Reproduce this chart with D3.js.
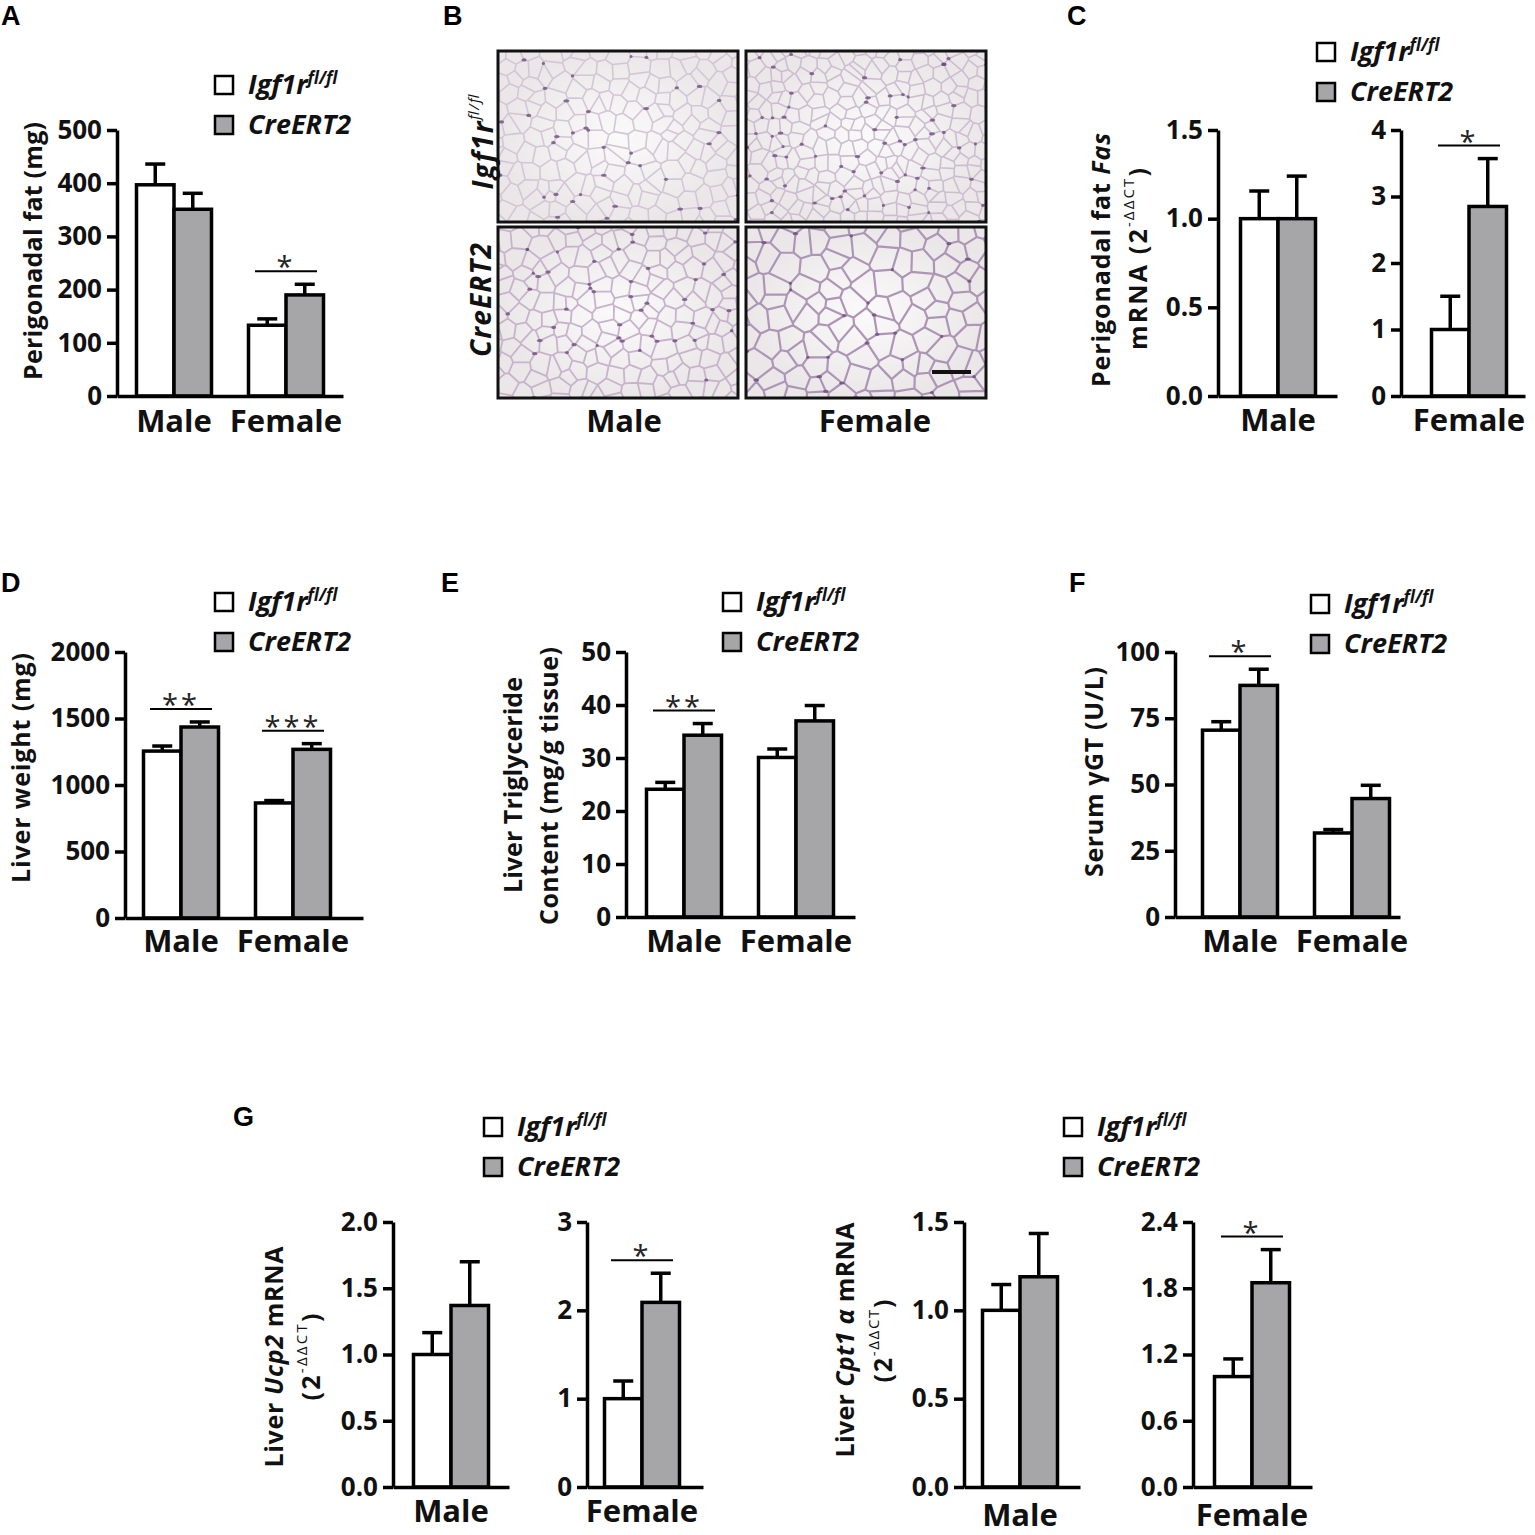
<!DOCTYPE html>
<html>
<head>
<meta charset="utf-8">
<script src="https://cdn.jsdelivr.net/npm/d3@7"></script>
<style>
  body { margin: 0; background: #fff; }
  svg { display: block; font-family: "Open Sans", sans-serif; font-weight: 700; }
</style>
</head>
<body>
<svg id="fig" width="1535" height="1535"></svg>
<script>
// ---- data ----
const groups = ["Male", "Female"];
const genotypes = ["Igf1r", "CreERT2"];

// A: perigonadal fat (mg), [group][genotype]
const fatMean = [[397, 351], [133, 190]];
const fatSem = [[39, 30], [12, 20]];
const fatTicks = [0, 100, 200, 300, 400, 500];

// C: perigonadal fat Fas mRNA
const fasMaleMean = [[1.0, 1.0]];
const fasMaleSem = [[0.156, 0.24]];
const fasMaleTicks = [0, 0.5, 1.0, 1.5];
const fasFemaleMean = [[1.0, 2.85]];
const fasFemaleSem = [[0.5, 0.72]];
const fasFemaleTicks = [0, 1, 2, 3, 4];

// D: liver weight (mg)
const liverMean = [[1255, 1436], [865, 1268]];
const liverSem = [[38, 38], [18, 43]];
const liverTicks = [0, 500, 1000, 1500, 2000];

// E: liver triglyceride (mg/g tissue)
const tgMean = [[24.1, 34.3], [30.1, 37.0]];
const tgSem = [[1.3, 2.2], [1.6, 2.9]];
const tgTicks = [0, 10, 20, 30, 40, 50];

// F: serum gGT (U/L)
const ggtMean = [[70.5, 87.4], [31.7, 44.7]];
const ggtSem = [[3.2, 6.1], [1.3, 5.0]];
const ggtTicks = [0, 25, 50, 75, 100];

// G: liver Ucp2 and Cpt1a mRNA
const ucpMaleMean = [[1.0, 1.37]];
const ucpMaleSem = [[0.165, 0.33]];
const ucpMaleTicks = [0, 0.5, 1.0, 1.5, 2.0];
const ucpFemaleMean = [[1.0, 2.09]];
const ucpFemaleSem = [[0.2, 0.33]];
const ucpFemaleTicks = [0, 1, 2, 3];
const cptMaleMean = [[1.0, 1.19]];
const cptMaleSem = [[0.146, 0.245]];
const cptMaleTicks = [0, 0.5, 1.0, 1.5];
const cptFemaleMean = [[1.0, 1.85]];
const cptFemaleSem = [[0.16, 0.30]];
const cptFemaleTicks = [0, 0.6, 1.2, 1.8, 2.4];

const svg = d3.select("#fig");
const GREY = "#a6a6a9";
const LW = 3.5;

// one bar chart (white = Igf1r fl/fl, grey = CreERT2)
function barPanel(p) {
  const y = d3.scaleLinear().domain([0, d3.max(p.ticks)]).range([p.yBot, p.yTop]);
  const x = d3.scalePoint().domain(p.groups).range(p.centers);
  const bw = 37.5;
  const g = svg.append("g");

  const bars = [];
  p.groups.forEach((grp, i) => p.mean[i].forEach((m, s) => bars.push({grp, s, m, e: p.sem[i][s]})));

  // error bars (upper only)
  const eb = g.selectAll("g.err").data(bars).join("g").attr("class", "err");
  eb.append("line")
    .attr("x1", d => x(d.grp) + (d.s ? bw / 2 : -bw / 2))
    .attr("x2", d => x(d.grp) + (d.s ? bw / 2 : -bw / 2))
    .attr("y1", d => y(d.m)).attr("y2", d => y(d.m + d.e))
    .attr("stroke", "#000").attr("stroke-width", LW);
  eb.append("line")
    .attr("x1", d => x(d.grp) + (d.s ? bw / 2 : -bw / 2) - 10)
    .attr("x2", d => x(d.grp) + (d.s ? bw / 2 : -bw / 2) + 10)
    .attr("y1", d => y(d.m + d.e)).attr("y2", d => y(d.m + d.e))
    .attr("stroke", "#000").attr("stroke-width", LW);

  g.selectAll("rect.bar").data(bars).join("rect").attr("class", "bar")
    .attr("x", d => x(d.grp) + (d.s ? 0 : -bw))
    .attr("y", d => y(d.m))
    .attr("width", bw)
    .attr("height", d => y(0) - y(d.m))
    .attr("fill", d => d.s ? GREY : "#fff")
    .attr("stroke", "#000").attr("stroke-width", LW);

  // axes
  const ay = g.append("g").attr("transform", `translate(${p.x0},0)`)
    .call(d3.axisLeft(y).tickValues(p.ticks).tickFormat(d3.format(p.fmt)).tickSize(10).tickSizeOuter(0).tickPadding(5));
  ay.select(".domain").attr("stroke-width", LW);
  ay.selectAll(".tick line").attr("stroke-width", LW);
  ay.selectAll(".tick text").attr("font-size", 26).attr("font-family", "Open Sans").attr("font-weight", 700).attr("fill", "#111");

  const xs = d3.scaleLinear().range([p.x0, p.x1]);
  const ax = g.append("g").attr("transform", `translate(0,${y(0)})`)
    .call(d3.axisBottom(xs).tickValues([]).tickSizeOuter(0));
  ax.select(".domain").attr("stroke-width", LW);

  // category labels
  g.selectAll("text.cat").data(p.groups).join("text").attr("class", "cat")
    .attr("x", d => x(d)).attr("y", y(0) + (p.catDy || 36))
    .attr("text-anchor", "middle").attr("font-size", 31).attr("fill", "#111")
    .text(d => d);

  // significance
  (p.sig || []).forEach(sg => {
    const i = p.groups.indexOf(sg.grp);
    const top = d3.max(p.mean[i].map((m, s) => m + p.sem[i][s]));
    const ly = y(top) - 13;
    const c = x(sg.grp);
    g.append("line").attr("x1", c - 31).attr("x2", c + 31).attr("y1", ly).attr("y2", ly)
      .attr("stroke", "#000").attr("stroke-width", 2);
    g.append("text").attr("x", c).attr("y", ly + 6).attr("text-anchor", "middle")
      .attr("font-size", 29).attr("font-weight", 400).attr("letter-spacing", 3).attr("fill", "#222")
      .text(sg.label);
  });
}

function legend(lx, ly) {
  const g = svg.append("g").attr("transform", `translate(${lx},${ly})`);
  const rows = g.selectAll("g").data(genotypes).join("g")
    .attr("transform", (d, i) => `translate(0,${i * 40})`);
  rows.append("rect").attr("width", 18).attr("height", 18)
    .attr("fill", (d, i) => i ? GREY : "#fff").attr("stroke", "#000").attr("stroke-width", 2.5);
  const t = rows.append("text").attr("x", 33).attr("y", 18)
    .attr("font-size", 27).attr("font-style", "italic").attr("fill", "#111");
  t.append("tspan").text(d => d);
  t.filter((d, i) => i === 0).append("tspan").attr("dy", -10).attr("font-size", 17).text("fl/fl");
}

function ytitle(cx, cy, parts, len, size) {
  const t = svg.append("text").attr("transform", `translate(${cx},${cy}) rotate(-90)`)
    .attr("text-anchor", "middle").attr("dominant-baseline", "central")
    .attr("font-size", size || 25).attr("fill", "#111");
  if (len) t.attr("textLength", len);
  parts.forEach(pt => {
    const s = t.append("tspan").text(pt.t);
    if (pt.i) s.attr("font-style", "italic");
    if (pt.sup) s.attr("font-size", 15).attr("font-weight", 400).attr("dy", -9);
    if (pt.down) s.attr("dy", 9);
  });
}

function panelLetter(x, y, s) {
  svg.append("text").attr("x", x).attr("y", y).attr("font-family", "Liberation Sans, Arial")
    .attr("font-size", 27).attr("font-weight", 700).text(s);
}

// ---- A ----
panelLetter(1, 25, "A");
legend(215, 76);
ytitle(32, 251, [{t: "Perigonadal fat (mg)"}], 258);
barPanel({groups, mean: fatMean, sem: fatSem, ticks: fatTicks, fmt: "d",
  x0: 117, x1: 343, yTop: 130, yBot: 396, centers: [174, 286],
  sig: [{grp: "Female", label: "*"}]});

// ---- B (H&E sections) ----
panelLetter(443, 25, "B");
function hash(a, b, s) {
  const v = Math.sin(a * 127.1 + b * 311.7 + s * 74.7) * 43758.5453;
  return v - Math.floor(v);
}
const frames = [
  {x: 498, y: 51, step: 17, col: "#d3c6d6", w: 1.6, seed: 1},
  {x: 746, y: 51, step: 14, col: "#cdbdd1", w: 1.6, seed: 2},
  {x: 498, y: 227, step: 17, col: "#c7b3cc", w: 1.8, seed: 3},
  {x: 746, y: 227, step: 22, col: "#ad95b6", w: 2.2, seed: 4}
];
const FW = 240, FH = 171;
const defs = svg.append("defs");
const grad = defs.append("radialGradient").attr("id", "photo");
grad.append("stop").attr("offset", "0%").attr("stop-color", "#fbfafa");
grad.append("stop").attr("offset", "100%").attr("stop-color", "#ebe7e8");
frames.forEach((f, k) => {
  defs.append("clipPath").attr("id", "clip" + k)
    .append("rect").attr("x", f.x).attr("y", f.y).attr("width", FW).attr("height", FH);
  const g = svg.append("g").attr("clip-path", `url(#clip${k})`);
  g.append("rect").attr("x", f.x).attr("y", f.y).attr("width", FW).attr("height", FH).attr("fill", "url(#photo)");
  const pts = [];
  const st = f.step;
  for (let i = -1; i * st < FW + st; i++) {
    for (let j = -1; j * st * 0.87 < FH + st; j++) {
      const ox = (j % 2 ? st / 2 : 0);
      pts.push([f.x + i * st + ox + (hash(i, j, f.seed) - 0.5) * st * 0.8,
                f.y + j * st * 0.87 + (hash(j, i, f.seed + 9) - 0.5) * st * 0.8]);
    }
  }
  const del = d3.Delaunay.from(pts);
  const vor = del.voronoi([f.x - st, f.y - st, f.x + FW + st, f.y + FH + st]);
  g.append("path").attr("d", vor.render()).attr("fill", "none")
    .attr("stroke", f.col).attr("stroke-width", f.w).attr("stroke-linejoin", "round");
  const cc = vor.circumcenters;
  const nuclei = [];
  for (let n = 0; n < cc.length / 2; n++) if (hash(n, k, 5) < 0.14) nuclei.push([cc[2 * n], cc[2 * n + 1], hash(k, n, 7)]);
  g.selectAll("ellipse").data(nuclei).join("ellipse")
    .attr("cx", d => d[0]).attr("cy", d => d[1])
    .attr("rx", d => 1.5 + d[2] * 1.5).attr("ry", 1.6)
    .attr("fill", "#6a4578").attr("opacity", 0.75);
  svg.append("rect").attr("x", f.x).attr("y", f.y).attr("width", FW).attr("height", FH)
    .attr("fill", "none").attr("stroke", "#111").attr("stroke-width", 3);
});
svg.append("line").attr("x1", 932).attr("x2", 971).attr("y1", 372).attr("y2", 372)
  .attr("stroke", "#111").attr("stroke-width", 4);
ytitle(482, 142, [{t: "Igf1r", i: 1}, {t: "fl/fl", i: 1, sup: 1}], 95, 28);
ytitle(480, 300, [{t: "CreERT2", i: 1}], 114, 28);
svg.selectAll("text.bcat").data(groups).join("text").attr("class", "bcat")
  .attr("x", (d, i) => [624, 875][i]).attr("y", 432).attr("text-anchor", "middle")
  .attr("font-size", 31).attr("fill", "#111").text(d => d);

// ---- C ----
panelLetter(1067, 25, "C");
legend(1317, 43);
ytitle(1100, 260, [{t: "Perigonadal fat  "}, {t: "Fas", i: 1}], 254);
ytitle(1137, 259, [{t: "mRNA  (2"}, {t: "-ΔΔCT", sup: 1}, {t: ")", down: 1}], 182);
barPanel({groups: ["Male"], mean: fasMaleMean, sem: fasMaleSem, ticks: fasMaleTicks, fmt: ".1f",
  x0: 1218, x1: 1337, yTop: 130, yBot: 396, centers: [1278, 1278], catDy: 35});
barPanel({groups: ["Female"], mean: fasFemaleMean, sem: fasFemaleSem, ticks: fasFemaleTicks, fmt: "d",
  x0: 1401, x1: 1525, yTop: 130, yBot: 396, centers: [1469, 1469], catDy: 35,
  sig: [{grp: "Female", label: "*"}]});

// ---- D ----
panelLetter(1, 592, "D");
legend(215, 593);
ytitle(20, 768, [{t: "Liver weight (mg)"}], 230);
barPanel({groups, mean: liverMean, sem: liverSem, ticks: liverTicks, fmt: "d",
  x0: 125, x1: 363, yTop: 652, yBot: 918, centers: [181, 293], catDy: 34,
  sig: [{grp: "Male", label: "**"}, {grp: "Female", label: "***"}]});

// ---- E ----
panelLetter(441, 592, "E");
legend(723, 593);
ytitle(512, 785, [{t: "Liver Triglyceride"}], 216);
ytitle(548, 786, [{t: "Content (mg/g tissue)"}], 278);
barPanel({groups, mean: tgMean, sem: tgSem, ticks: tgTicks, fmt: "d",
  x0: 626, x1: 855, yTop: 652, yBot: 917, centers: [684, 796], catDy: 35,
  sig: [{grp: "Male", label: "**"}]});

// ---- F ----
panelLetter(1069, 592, "F");
legend(1311, 595);
ytitle(1093, 772, [{t: "Serum γGT (U/L)"}], 210);
barPanel({groups, mean: ggtMean, sem: ggtSem, ticks: ggtTicks, fmt: "d",
  x0: 1175, x1: 1400, yTop: 652, yBot: 917, centers: [1240, 1352], catDy: 35,
  sig: [{grp: "Male", label: "*"}]});

// ---- G ----
panelLetter(233, 1126, "G");
legend(484, 1118);
ytitle(273, 1357, [{t: "Liver "}, {t: "Ucp2", i: 1}, {t: " mRNA"}], 221);
ytitle(310, 1357, [{t: "(2"}, {t: "-ΔΔCT", sup: 1}, {t: ")", down: 1}], 87);
barPanel({groups: ["Male"], mean: ucpMaleMean, sem: ucpMaleSem, ticks: ucpMaleTicks, fmt: ".1f",
  x0: 393, x1: 509, yTop: 1222, yBot: 1487, centers: [451, 451], catDy: 35});
barPanel({groups: ["Female"], mean: ucpFemaleMean, sem: ucpFemaleSem, ticks: ucpFemaleTicks, fmt: "d",
  x0: 587, x1: 703, yTop: 1222, yBot: 1487, centers: [642, 642], catDy: 35,
  sig: [{grp: "Female", label: "*"}]});

legend(1064, 1118);
ytitle(844, 1340, [{t: "Liver "}, {t: "Cpt1 α", i: 1}, {t: " mRNA"}], 235);
ytitle(882, 1341, [{t: "(2"}, {t: "-ΔΔCT", sup: 1}, {t: ")", down: 1}], 83);
barPanel({groups: ["Male"], mean: cptMaleMean, sem: cptMaleSem, ticks: cptMaleTicks, fmt: ".1f",
  x0: 964, x1: 1080, yTop: 1222, yBot: 1487, centers: [1020, 1020], catDy: 39});
barPanel({groups: ["Female"], mean: cptFemaleMean, sem: cptFemaleSem, ticks: cptFemaleTicks, fmt: ".1f",
  x0: 1193, x1: 1312, yTop: 1222, yBot: 1487, centers: [1252, 1252], catDy: 39,
  sig: [{grp: "Female", label: "*"}]});
</script>
</body>
</html>
